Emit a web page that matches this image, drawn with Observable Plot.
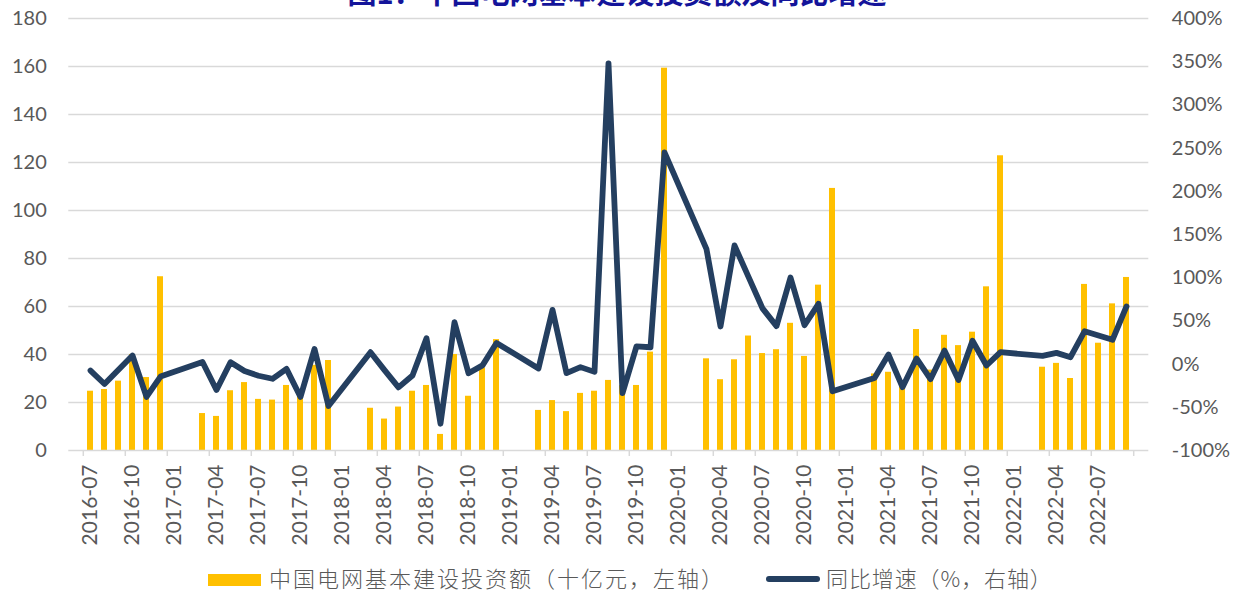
<!DOCTYPE html>
<html><head><meta charset="utf-8">
<script src="https://cdn.jsdelivr.net/npm/d3@7"></script>
<script src="https://cdn.jsdelivr.net/npm/@observablehq/plot@0.6"></script>
<style>
body{margin:0;background:#fff;}
#wrap{position:relative;width:1234px;height:593px;overflow:hidden;background:#fff;}
#title{position:absolute;left:0;top:-23px;width:1234px;text-align:center;font-family:"Noto Sans CJK SC";font-weight:700;font-size:29px;line-height:1;color:#14149a;white-space:nowrap;}
#chart{position:absolute;left:0;top:0;}
.lg{position:absolute;font-family:"Noto Sans CJK SC";font-weight:300;font-size:22px;line-height:22px;height:22px;color:#595959;white-space:nowrap;}
</style></head><body>
<div id="wrap">
  <div id="chart"></div>
  <div id="title">图1：中国电网基本建设投资额及同比增速</div>
  <div style="position:absolute;left:208px;top:573.5px;width:53px;height:12px;background:#FFC000;"></div>
  <div class="lg" style="left:269px;top:566px;letter-spacing:2px;">中国电网基本建设投资额（十亿元，左轴）</div>
  <div style="position:absolute;left:766px;top:576px;width:54px;height:6px;border-radius:3px;background:#243F60;"></div>
  <div class="lg" style="left:826px;top:566px;letter-spacing:0.9px;">同比增速（%，右轴）</div>
</div>
<script>
const months = [
"2016-07","2016-08","2016-09","2016-10","2016-11","2016-12",
"2017-01","2017-02","2017-03","2017-04","2017-05","2017-06","2017-07","2017-08","2017-09","2017-10","2017-11","2017-12",
"2018-01","2018-02","2018-03","2018-04","2018-05","2018-06","2018-07","2018-08","2018-09","2018-10","2018-11","2018-12",
"2019-01","2019-02","2019-03","2019-04","2019-05","2019-06","2019-07","2019-08","2019-09","2019-10","2019-11","2019-12",
"2020-01","2020-02","2020-03","2020-04","2020-05","2020-06","2020-07","2020-08","2020-09","2020-10","2020-11","2020-12",
"2021-01","2021-02","2021-03","2021-04","2021-05","2021-06","2021-07","2021-08","2021-09","2021-10","2021-11","2021-12",
"2022-01","2022-02","2022-03","2022-04","2022-05","2022-06","2022-07","2022-08","2022-09"];

// 中国电网基本建设投资额（十亿元）
const investment = [
24.7,25.4,28.9,40.0,30.4,72.4,
null,null,15.4,14.2,24.9,28.3,21.3,21.0,27.1,23.0,35.5,37.5,
null,null,17.6,13.1,18.1,24.7,27.1,6.7,40.0,22.6,34.4,46.2,
null,null,16.7,20.8,16.2,23.8,24.7,29.2,27.0,27.1,41.0,159.3,
null,null,38.2,29.5,37.8,47.7,40.4,42.0,53.0,39.2,68.9,109.2,
null,null,31.9,32.6,27.0,50.4,33.5,48.0,43.7,49.3,68.2,122.8,
null,null,34.7,36.3,30.0,69.2,44.7,61.1,72.1];

// 同比增速（%）
const growth = [
-7.5,-23,-6.5,10,-38,-14.4,
null,null,2.5,-30,2.2,-8,-13.5,-17,-5.5,-38,17.5,-48.5,
null,null,13.8,-7,-26.9,-13.2,30,-69,48.5,-10.5,-1.5,24.5,
null,null,-5,62.8,-10.5,-3.5,-9,348,-33.7,20.5,19.5,245,
null,null,133,43.5,137.3,101,64.5,44,100.3,45,69.8,-31.5,
null,null,-16,11,-26.7,6.5,-17.5,15.7,-18.5,27,-1.6,13.8,
null,null,9.5,13,8,38,33,28.1,66.7];

const leftTicks = [0,20,40,60,80,100,120,140,160,180];
const rightTicks = [-100,-50,0,50,100,150,200,250,300,350,400];
const tickMonths = months.filter((m,i)=>i%3===0);

const LMAX = 180, RMIN = -100, RMAX = 400;
const toLeft = p => (p - RMIN) * LMAX / (RMAX - RMIN);
const fromLeft = v => v * (RMAX - RMIN) / LMAX + RMIN;

const rows = months.map((m,i)=>({m, v: investment[i], g: growth[i]}));
const H = 560;

const chart = Plot.plot({
  width: 1234, height: H,
  marginTop: 18, marginBottom: H - 450, marginLeft: 68.3, marginRight: 85.7,
  x: {type: "band", domain: months, paddingInner: 0.56, paddingOuter: 0.28, label: null},
  y: {domain: [0, LMAX], label: null},
  style: {fontFamily: "Lato", fontSize: "20px", color: "#595959", background: "#fff", overflow: "visible"},
  marks: [
    Plot.ruleY(leftTicks.filter(d=>d>0), {stroke: "#D9D9D9", strokeWidth: 1.5}),
    Plot.barY(rows.filter(d=>d.v!=null), {x: "m", y: "v", fill: "#FFC000"}),
    Plot.ruleY([0], {stroke: "#D9D9D9", strokeWidth: 1.5}),
    Plot.ruleX(tickMonths, {x: d=>d, dx: -7.2, insetTop: 432, insetBottom: -6, stroke: "#D9D9D9", strokeWidth: 1.5}),
    Plot.ruleX([months[months.length-1]], {x: d=>d, dx: 7.2, insetTop: 432, insetBottom: -6, stroke: "#D9D9D9", strokeWidth: 1.5}),
    Plot.line(rows.filter(d=>d.g!=null), {x: "m", y: d=>toLeft(d.g), stroke: "#243F60", strokeWidth: 5.8, strokeLinejoin: "round", strokeLinecap: "round"}),
    Plot.axisY({ticks: leftTicks, tickSize: 0, tickPadding: 22, tickFormat: d=>String(d), fill: "#595959", label: null}),
    Plot.axisY({anchor: "right", ticks: rightTicks.map(toLeft), tickSize: 0, tickPadding: 23,
      tickFormat: d=>Math.round(fromLeft(d)) + "%", fill: "#595959", label: null}),
    Plot.axisX({ticks: tickMonths, tickRotate: -90, tickSize: 0, tickPadding: 14, fontSize: 21, fill: "#595959", label: null})
  ]
});
document.getElementById("chart").appendChild(chart);
</script>
</body></html>
